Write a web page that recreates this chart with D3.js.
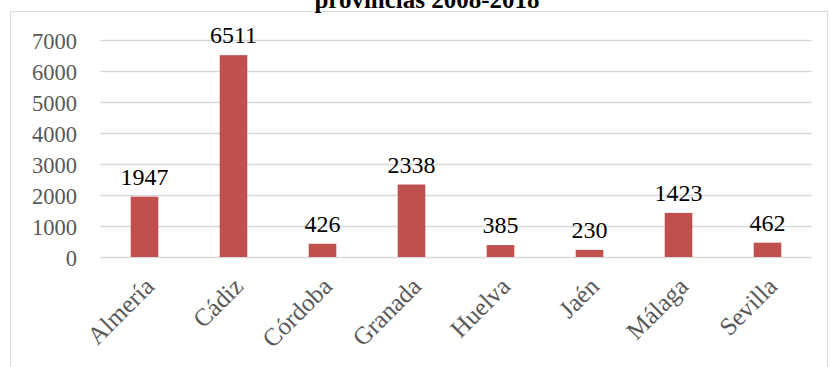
<!DOCTYPE html>
<html>
<head>
<meta charset="utf-8">
<script src="https://cdn.jsdelivr.net/npm/d3@7"></script>
<style>
  html, body { margin: 0; padding: 0; background: #fff; }
  svg { display: block; }
</style>
</head>
<body>
<script>
// Provinces and values
const categories = ["Almería", "Cádiz", "Córdoba", "Granada", "Huelva", "Jaén", "Málaga", "Sevilla"];
const values = [1947, 6511, 426, 2338, 385, 230, 1423, 462];
const yTicks = [0, 1000, 2000, 3000, 4000, 5000, 6000, 7000];
const titleText = "provincias 2008-2018";

const W = 830, H = 367;
const font = "'Liberation Serif', 'Times New Roman', serif";

const svg = d3.select("body").append("svg")
  .attr("width", W).attr("height", H);

// chart frame
svg.append("rect")
  .attr("x", 10.5).attr("y", 11.5)
  .attr("width", 817).attr("height", 380)
  .attr("fill", "#fff").attr("stroke", "#D9D9D9").attr("stroke-width", 1);

// title (last line)
svg.append("text")
  .attr("x", 427).attr("y", 8)
  .attr("text-anchor", "middle")
  .attr("font-family", font).attr("font-weight", "bold")
  .attr("font-size", 25).attr("fill", "#000")
  .text(titleText);

const x = d3.scaleBand().domain(categories).range([100, 812]).paddingInner(0.69).paddingOuter(0.345);
const y = d3.scaleLinear().domain([0, 7000]).range([257, 40]);

// gridlines
svg.append("g").selectAll("line").data(yTicks).join("line")
  .attr("x1", 100).attr("x2", 812)
  .attr("y1", d => Math.round(y(d)) + 0.5).attr("y2", d => Math.round(y(d)) + 0.5)
  .attr("stroke", "#D9D9D9").attr("stroke-width", 1.5);

// y axis labels
const yAxis = svg.append("g").attr("transform", "translate(77,0)")
  .call(d3.axisLeft(y).tickValues(yTicks).tickSize(0).tickPadding(0).tickFormat(d3.format("d")));
yAxis.select(".domain").remove();
yAxis.selectAll("text")
  .attr("font-family", font).attr("font-size", 22.5).attr("fill", "#595959")
  .attr("dy", "0.36em");

// bars
svg.append("g").selectAll("rect").data(values).join("rect")
  .attr("x", (d, i) => x(categories[i]))
  .attr("width", x.bandwidth())
  .attr("y", d => y(d))
  .attr("height", d => y(0) - y(d))
  .attr("fill", "#C0504D");

// value labels
svg.append("g").selectAll("text").data(values).join("text")
  .attr("x", (d, i) => x(categories[i]) + x.bandwidth() / 2)
  .attr("y", d => y(d) - 12)
  .attr("text-anchor", "middle")
  .attr("font-family", font).attr("font-size", 24).attr("fill", "#000")
  .text(d => d);

// category labels
const xAxis = svg.append("g").attr("transform", "translate(0,257)")
  .call(d3.axisBottom(x).tickSize(0).tickPadding(0));
xAxis.select(".domain").remove();
xAxis.selectAll("text")
  .attr("font-family", font).attr("font-size", 25).attr("fill", "#595959")
  .attr("text-anchor", "end")
  .attr("dy", null).attr("y", 0)
  .attr("transform", "translate(11,31) rotate(-45)");
</script>
</body>
</html>
